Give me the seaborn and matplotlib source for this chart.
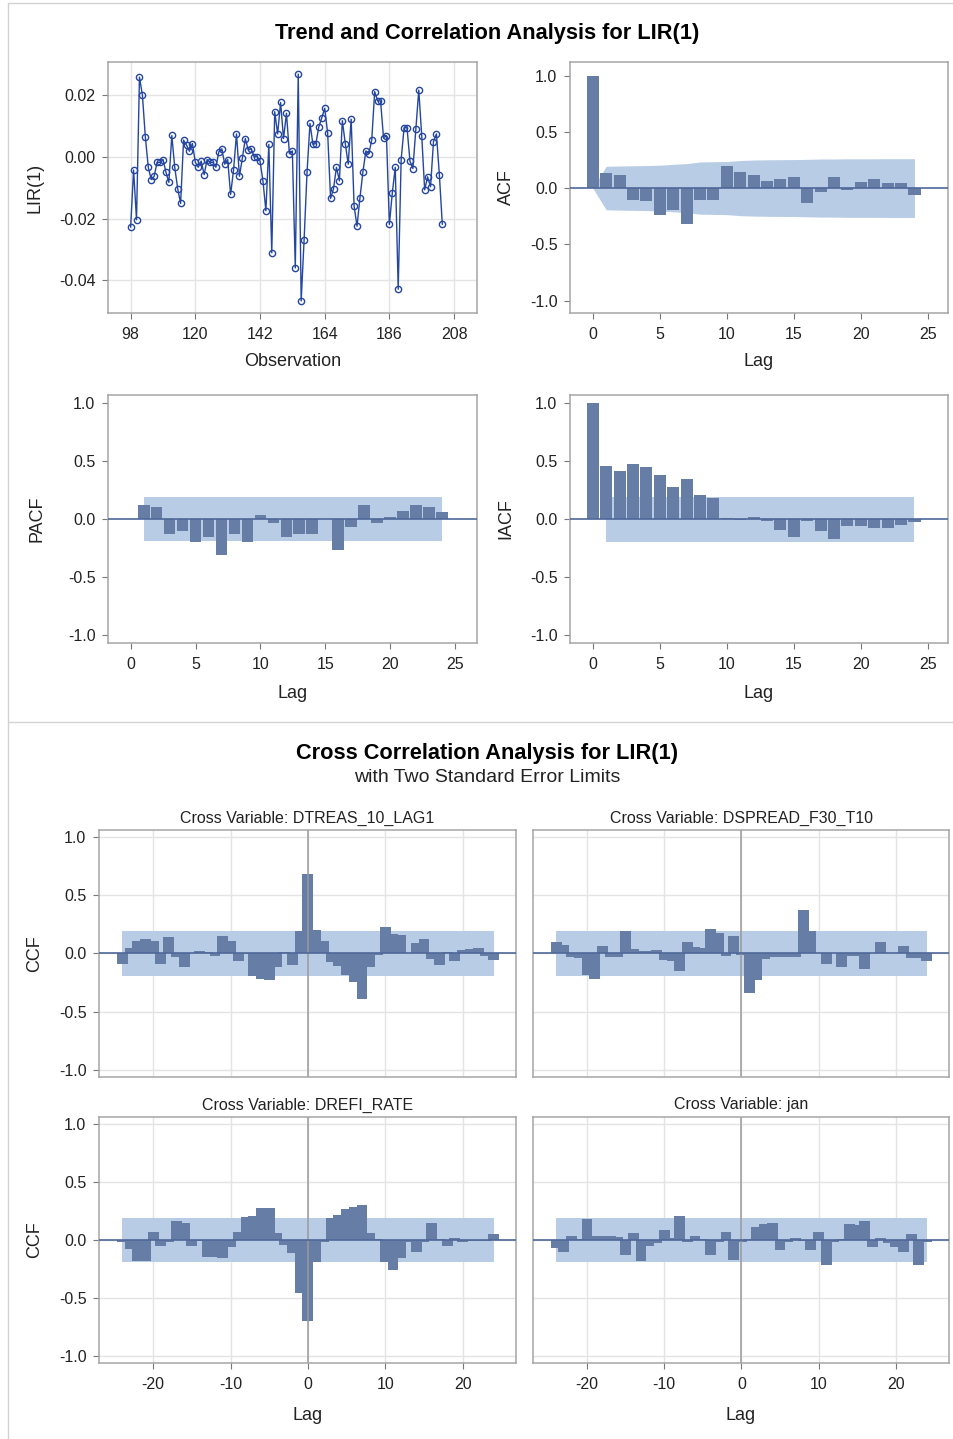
#!/usr/bin/env python3

import numpy as np
import pandas as pd
import seaborn as sns
import matplotlib.pyplot as plt
from matplotlib.lines import Line2D

W, H = 954, 1439

# series LIR(1), observations 98..204
OBS_START = 98
LIR1 = [
    -0.0228, -0.0043, -0.0204, 0.0258, 0.0200, 0.0064, -0.0034, -0.0074, -0.0063, -0.0018,
    -0.0018, -0.0009, -0.0049, -0.0083, 0.0069, -0.0034, -0.0103, -0.0151, 0.0054, 0.0038,
    0.0018, 0.0043, -0.0018, -0.0034, -0.0014, -0.0058, -0.0009, -0.0018, -0.0018, -0.0034,
    0.0016, 0.0026, -0.0024, -0.0009, -0.0122, -0.0043, 0.0074, -0.0063, -0.0004, 0.0059,
    0.0022, 0.0026, 0.0000, 0.0000, -0.0014, -0.0078, -0.0175, 0.0040, -0.0311, 0.0146,
    0.0074, 0.0176, 0.0059, 0.0141, 0.0010,
    0.0019, -0.0360, 0.0268, -0.0467, -0.0268, -0.0049, 0.0108, 0.0040, 0.0043, 0.0097,
    0.0126, 0.0157, 0.0078, -0.0135, -0.0103, -0.0034, -0.0078, 0.0117, 0.0043, -0.0024,
    0.0122, -0.0160, -0.0225, -0.0132, -0.0049, 0.0019, 0.0010, 0.0054, 0.0211, 0.0181,
    0.0181, 0.0062, 0.0068, -0.0219, -0.0117, -0.0034, -0.0429, -0.0009, 0.0094, 0.0094,
    -0.0014, -0.0038, 0.0089, 0.0216, 0.0068, -0.0107, -0.0065, -0.0097, 0.0049, 0.0074,
    -0.0058, -0.0219,
]

ACF_LAGS = list(range(0, 25))
ACF = [1.0, 0.132, 0.118, -0.103, -0.118, -0.235, -0.194, -0.318, -0.103, -0.103,
       0.200, 0.147, 0.118, 0.065, 0.079, 0.094, -0.129, -0.035, 0.094, -0.015,
       0.053, 0.079, 0.041, 0.041, -0.065]
ACF_BAND = [0.0, 0.193, 0.196, 0.198, 0.200, 0.203, 0.211, 0.217, 0.232, 0.234,
            0.236, 0.245, 0.249, 0.251, 0.252, 0.253, 0.255, 0.258, 0.258, 0.260,
            0.260, 0.260, 0.261, 0.261, 0.261]

PACF_LAGS = list(range(1, 25))
PACF = [0.123, 0.100, -0.129, -0.100, -0.195, -0.152, -0.307, -0.129, -0.195, 0.034,
        -0.034, -0.152, -0.129, -0.129, 0.000, -0.270, -0.072, 0.123, -0.037, 0.014,
        0.069, 0.123, 0.100, 0.057]

IACF = [1.0, 0.461, 0.412, 0.473, 0.450, 0.383, 0.280, 0.346, 0.213, 0.187,
        0.012, -0.003, 0.020, -0.014, -0.089, -0.153, -0.017, -0.100, -0.167, -0.058,
        -0.058, -0.078, -0.078, -0.049, -0.023]

CORR_LIMIT = 0.193

CCF_LAGS = list(range(-24, 25))
CROSS_VARS = ["DTREAS_10_LAG1", "DSPREAD_F30_T10", "DREFI_RATE", "jan"]
CCF_DTREAS = [
    -0.086, 0.043, 0.109, 0.123, 0.109, -0.086, 0.138, -0.029, -0.115, 0.005,
    0.023, 0.014, -0.020, 0.152, 0.109, -0.063, -0.005, -0.195, -0.215, -0.230,
    -0.120, 0.010, -0.100, 0.192, 0.680, 0.200, 0.109, -0.072, -0.106, -0.187,
    -0.244, -0.387, -0.120, -0.014, 0.230, 0.166, 0.160, 0.000, 0.086, 0.123,
    -0.049, -0.100, 0.010, -0.063, 0.029, 0.037, 0.043, -0.020, -0.057,
]
CCF_DSPREAD = [
    0.100, 0.072, -0.030, -0.040, -0.187, -0.215, 0.063, -0.034, -0.034, 0.192,
    0.037, 0.023, 0.023, 0.029, -0.057, -0.063, -0.149, 0.100, 0.057, 0.050,
    0.207, 0.172, -0.020, 0.152, -0.010, -0.339, -0.230, -0.049, -0.034, -0.030,
    -0.034, -0.030, 0.373, 0.192, 0.000, -0.086, 0.000, -0.115, -0.020, -0.020,
    -0.129, 0.000, 0.100, 0.003, 0.000, 0.063, -0.037, -0.037, -0.063,
]
CCF_DREFI = [
    -0.020, -0.080, -0.180, -0.180, 0.072, -0.049, -0.020, 0.164, 0.150, -0.052,
    -0.010, -0.143, -0.143, -0.158, -0.063, 0.070, 0.200, 0.205, 0.273, 0.280,
    0.057, -0.043, -0.115, -0.454, -0.698, -0.187, -0.014, 0.187, 0.216, 0.267,
    0.287, 0.300, 0.057, 0.006, -0.187, -0.259, -0.158, -0.020, -0.100, -0.020,
    0.149, 0.006, -0.052, 0.020, -0.014, -0.009, -0.010, -0.005, 0.049,
]
CCF_JAN = [
    -0.072, -0.100, 0.034, 0.010, 0.178, 0.034, 0.037, 0.034, 0.029, -0.129,
    0.057, -0.181, -0.049, -0.030, 0.086, 0.020, 0.207, -0.014, 0.034, 0.010,
    -0.129, -0.014, 0.072, -0.172, -0.014, 0.010, 0.115, 0.135, 0.149, -0.086,
    -0.020, 0.020, -0.010, -0.086, 0.072, -0.215, -0.014, 0.010, 0.135, 0.129,
    0.164, -0.057, 0.014, -0.030, -0.057, -0.100, 0.049, -0.215, -0.014,
]

BAR = "#667ea5"
BAND = "#b8cce6"
ZERO = "#4f6898"
FRAME = "#a6a6a6"
GRID = "#e4e4e4"
LINE = "#2446a0"
TXT = "#222222"

sns.set_style("white")
plt.rcParams["font.family"] = ["Liberation Sans", "DejaVu Sans"]
plt.rcParams["axes.unicode_minus"] = False

fig = plt.figure(figsize=(W / 100, H / 100), dpi=100)


def add_box(l, r, t, b):
    return fig.add_axes([l / W, 1 - b / H, (r - l) / W, (b - t) / H])


def style(ax, xlabels=True, ylabels=True):
    for s in ax.spines.values():
        s.set_color(FRAME)
        s.set_linewidth(1.1)
    ax.tick_params(axis="x", bottom=xlabels, labelbottom=xlabels, direction="out",
                   length=4, width=0.8, color="#777777", labelsize=11.5, pad=6,
                   labelcolor=TXT)
    ax.tick_params(axis="y", left=ylabels, labelleft=ylabels, direction="out",
                   length=4, width=0.8, color="#777777", labelsize=11.5, pad=5,
                   labelcolor=TXT)


def place_labels(ax, box, xlabel, xlab_y, ylabel, ylab_x):
    l, r, t, b = box
    if xlabel:
        ax.set_xlabel(xlabel, fontsize=13, color=TXT, va="center")
        ax.xaxis.set_label_coords(0.5, (b - xlab_y) / (b - t))
    else:
        ax.set_xlabel("")
    if ylabel:
        ax.set_ylabel(ylabel, fontsize=13, color=TXT, va="center")
        ax.yaxis.set_label_coords((ylab_x - l) / (r - l), 0.5)
    else:
        ax.set_ylabel("")


def corr_bars(ax, lags, vals, width, band_x, band_y):
    ax.fill_between(band_x, [-v for v in band_y], band_y, color=BAND, lw=0, zorder=1)
    df = pd.DataFrame({"lag": lags, "value": vals})
    sns.barplot(data=df, x="lag", y="value", native_scale=True, orient="x",
                width=width, color=BAR, saturation=1, errorbar=None,
                linewidth=0, ax=ax, zorder=2)
    ax.axhline(0, color=ZERO, lw=1.2, zorder=3)


# ---- top section ----
fig.text(487 / W, 1 - 33 / H, "Trend and Correlation Analysis for LIR(1)",
         ha="center", va="center", fontsize=15.7, fontweight="bold", color="black")

# series plot
box = (108, 477, 62, 313)
ax = add_box(*box)
ts = pd.DataFrame({"obs": np.arange(OBS_START, OBS_START + len(LIR1)), "lir": LIR1})
sns.lineplot(data=ts, x="obs", y="lir", color=LINE, lw=1, marker="o", markersize=4.5,
             markerfacecolor="none", markeredgecolor=LINE, markeredgewidth=1,
             ax=ax, zorder=3)
ax.set_xlim(90.3, 215.8)
ax.set_ylim(-0.0506, 0.0307)
ax.set_xticks([98, 120, 142, 164, 186, 208])
ax.set_yticks([0.02, 0.0, -0.02, -0.04])
ax.set_yticklabels(["0.02", "0.00", "-0.02", "-0.04"])
ax.grid(True, color=GRID, lw=1)
ax.set_axisbelow(True)
style(ax)
place_labels(ax, box, "Observation", 362, "LIR(1)", 35)

# ACF
box = (570, 948, 62, 313)
ax = add_box(*box)
corr_bars(ax, ACF_LAGS, ACF, 0.9, ACF_LAGS, ACF_BAND)
ax.set_xlim(-1.7, 26.5)
ax.set_ylim(-1.11, 1.12)
ax.set_xticks([0, 5, 10, 15, 20, 25])
ax.set_yticks([1.0, 0.5, 0.0, -0.5, -1.0])
ax.set_yticklabels(["1.0", "0.5", "0.0", "-0.5", "-1.0"])
style(ax)
place_labels(ax, box, "Lag", 362, "ACF", 506)

# PACF
box = (108, 477, 395, 643)
ax = add_box(*box)
corr_bars(ax, PACF_LAGS, PACF, 0.9, [1, 24], [CORR_LIMIT, CORR_LIMIT])
ax.set_xlim(-1.75, 26.7)
ax.set_ylim(-1.065, 1.065)
ax.set_xticks([0, 5, 10, 15, 20, 25])
ax.set_yticks([1.0, 0.5, 0.0, -0.5, -1.0])
ax.set_yticklabels(["1.0", "0.5", "0.0", "-0.5", "-1.0"])
style(ax)
place_labels(ax, box, "Lag", 693, "PACF", 37)

# IACF
box = (570, 948, 395, 643)
ax = add_box(*box)
corr_bars(ax, ACF_LAGS, IACF, 0.9, [1, 24], [CORR_LIMIT, CORR_LIMIT])
ax.set_xlim(-1.7, 26.5)
ax.set_ylim(-1.065, 1.07)
ax.set_xticks([0, 5, 10, 15, 20, 25])
ax.set_yticks([1.0, 0.5, 0.0, -0.5, -1.0])
ax.set_yticklabels(["1.0", "0.5", "0.0", "-0.5", "-1.0"])
style(ax)
place_labels(ax, box, "Lag", 693, "IACF", 506)

# ---- bottom section ----
fig.text(487 / W, 1 - 753 / H, "Cross Correlation Analysis for LIR(1)",
         ha="center", va="center", fontsize=15.7, fontweight="bold", color="black")
fig.text(487 / W, 1 - 778 / H, "with Two Standard Error Limits",
         ha="center", va="center", fontsize=14, color=TXT)

ccf_series = [CCF_DTREAS, CCF_DSPREAD, CCF_DREFI, CCF_JAN]
ccf_boxes = [(99, 516, 830, 1077), (533, 949, 830, 1077),
             (99, 516, 1117, 1363), (533, 949, 1117, 1363)]

for i, (name, vals, box) in enumerate(zip(CROSS_VARS, ccf_series, ccf_boxes)):
    left_col = i % 2 == 0
    bottom_row = i >= 2
    ax = add_box(*box)
    ax.axvline(0, color="#9a9a9a", lw=1.1, zorder=2.5)
    corr_bars(ax, CCF_LAGS, vals, 1.4, [-24, 24], [CORR_LIMIT, CORR_LIMIT])
    ax.set_xlim(-27, 26.9)
    ax.set_ylim(-1.062, 1.062)
    ax.set_xticks([-20, -10, 0, 10, 20])
    ax.set_yticks([1.0, 0.5, 0.0, -0.5, -1.0])
    ax.set_yticklabels(["1.0", "0.5", "0.0", "-0.5", "-1.0"])
    ax.grid(True, color=GRID, lw=1)
    ax.set_axisbelow(True)
    style(ax, xlabels=bottom_row, ylabels=left_col)
    place_labels(ax, box, "Lag" if bottom_row else None, 1415,
                 "CCF" if left_col else None, 35)
    l, r, t, b = box
    fig.text((l + r) / 2 / W, 1 - (t - 12) / H, "Cross Variable: " + name,
             ha="center", va="center", fontsize=11.5, color=TXT)

# outer frame and section divider
for xs, ys in [([8, W], [3, 3]), ([8, 8], [3, H]), ([8, W], [722, 722])]:
    fig.add_artist(Line2D([x / W for x in xs], [1 - y / H for y in ys],
                          color="#d2d2d2", lw=1))

fig.savefig("out.png", dpi=100)
